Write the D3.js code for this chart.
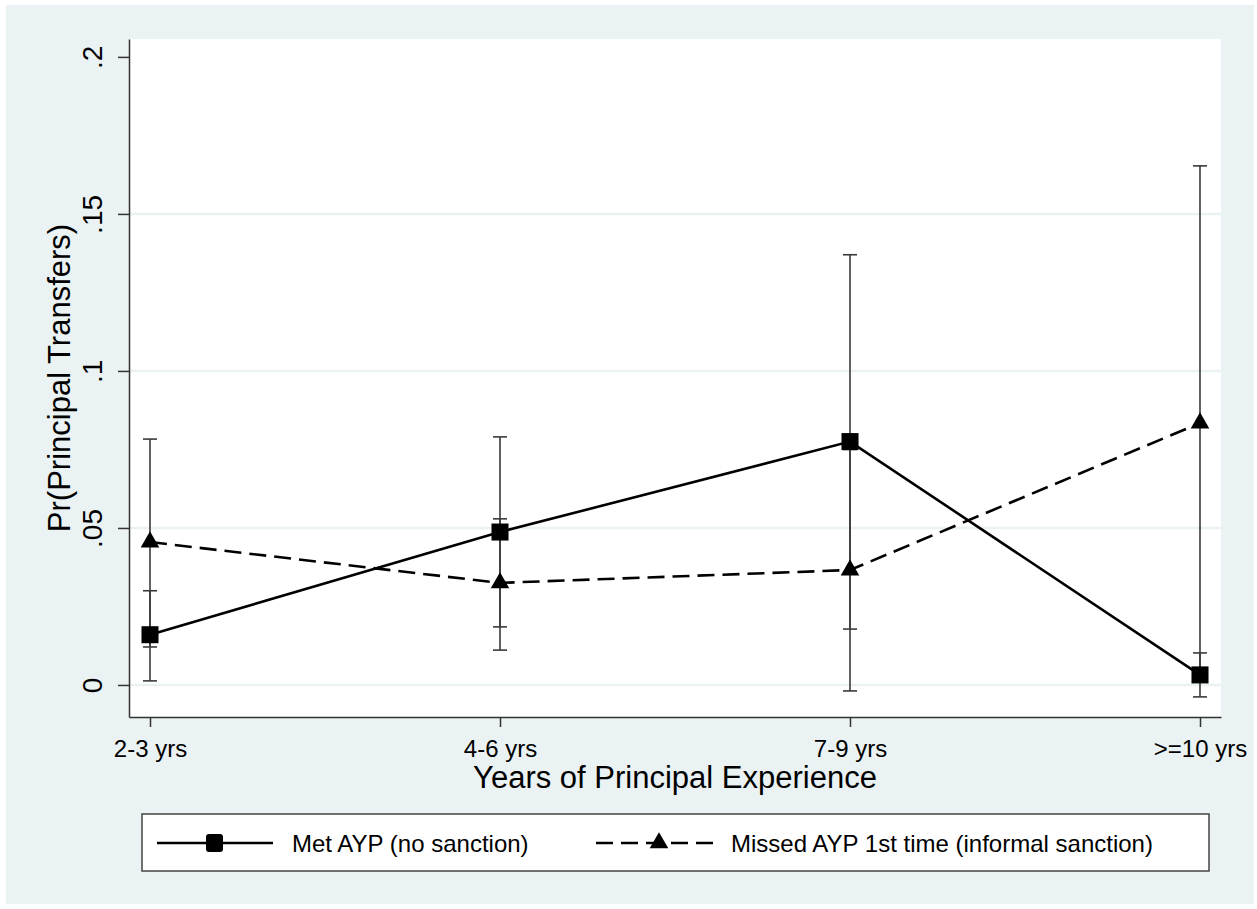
<!DOCTYPE html>
<html lang="en">
<head>
    <meta charset="UTF-8">
    <title>Pr(Principal Transfers) by Years of Principal Experience</title>
    <script src="https://d3js.org/d3.v7.min.js"></script>
    <style>
        body { margin: 0; background: #fff; }
        svg { display: block; font-family: "Liberation Sans", Arial, sans-serif; }
        .axis path, .axis line { stroke: #333; stroke-width: 1.5; }
        .grid { stroke: #eaf2f3; stroke-width: 2.5; }
        .ci { stroke: #3a3a3a; stroke-width: 1.6; fill: none; }
    </style>
</head>
<body>
<svg></svg>
<script>
    // categories and estimates
    const categories = ["2-3 yrs", "4-6 yrs", "7-9 yrs", ">=10 yrs"];
    const metEst  = [0.016, 0.0487, 0.0775, 0.0032];
    const metLo   = [0.0013, 0.0185, 0.0178, -0.0038];
    const metHi   = [0.030, 0.079, 0.137, 0.0102];
    const missEst = [0.0455, 0.0325, 0.0366, 0.0834];
    const missLo  = [0.0121, 0.0111, -0.0019, 0.0015];
    const missHi  = [0.0783, 0.0529, 0.075, 0.1653];
    const yTicks  = [0, 0.05, 0.1, 0.15, 0.2];
    const yTickLabels = ["0", ".05", ".1", ".15", ".2"];
    const seriesNames = ["Met AYP (no sanction)", "Missed AYP 1st time (informal sanction)"];

    const W = 1257, H = 909;
    const plot = {left: 129, right: 1221, top: 39, bottom: 717};

    const svg = d3.select("svg").attr("width", W).attr("height", H);

    // outer graph region (stata-ish light blue)
    svg.append("rect")
        .attr("x", 6).attr("y", 5)
        .attr("width", 1248).attr("height", 899)
        .attr("fill", "#eaf2f3");

    svg.append("rect")
        .attr("x", plot.left).attr("y", plot.top)
        .attr("width", plot.right - plot.left).attr("height", plot.bottom - plot.top)
        .attr("fill", "#fff");

    const x = d3.scalePoint()
        .domain(categories)
        .range([plot.left, plot.right])
        .padding(0.06);

    // 0 sits at 685, .2 at 57
    const y = d3.scaleLinear()
        .domain([-0.0102, 0.2057])
        .range([plot.bottom, plot.top]);

    // gridlines (no line at .2)
    svg.append("g")
        .selectAll("line")
        .data(yTicks.filter(d => d < 0.2))
        .enter().append("line")
        .attr("class", "grid")
        .attr("x1", plot.left).attr("x2", plot.right)
        .attr("y1", d => y(d)).attr("y2", d => y(d));

    // axes
    const yAxis = d3.axisLeft(y)
        .tickValues(yTicks)
        .tickSize(11)
        .tickSizeOuter(0)
        .tickFormat((d, i) => yTickLabels[i]);

    const gy = svg.append("g")
        .attr("class", "axis")
        .attr("transform", `translate(${plot.left},0)`)
        .call(yAxis);
    gy.selectAll("text")
        .attr("x", null).attr("dy", null)
        .attr("transform", "translate(-27,0) rotate(-90)")
        .attr("text-anchor", "middle")
        .style("font-size", "28px")
        .style("font-family", "Liberation Sans, Arial, sans-serif")
        .attr("fill", "#000");

    const xAxis = d3.axisBottom(x)
        .tickSize(10)
        .tickSizeOuter(0)
        .tickPadding(13);

    const gx = svg.append("g")
        .attr("class", "axis")
        .attr("transform", `translate(0,${plot.bottom})`)
        .call(xAxis);
    gx.selectAll("text")
        .style("font-size", "24px")
        .style("font-family", "Liberation Sans, Arial, sans-serif")
        .attr("fill", "#000");

    // axis titles
    svg.append("text")
        .attr("x", (plot.left + plot.right) / 2)
        .attr("y", 788)
        .attr("text-anchor", "middle")
        .style("font-size", "31px")
        .text("Years of Principal Experience");

    svg.append("text")
        .attr("transform", `translate(70,${(plot.top + plot.bottom) / 2}) rotate(-90)`)
        .attr("text-anchor", "middle")
        .style("font-size", "31px")
        .text("Pr(Principal Transfers)");

    // confidence interval caps
    function drawCI(lo, hi) {
        const g = svg.append("g").attr("class", "ci");
        categories.forEach((c, i) => {
            const cx = x(c);
            g.append("line")
                .attr("x1", cx).attr("x2", cx)
                .attr("y1", y(lo[i])).attr("y2", y(hi[i]));
            [lo[i], hi[i]].forEach(v => {
                g.append("line")
                    .attr("x1", cx - 7).attr("x2", cx + 7)
                    .attr("y1", y(v)).attr("y2", y(v));
            });
        });
    }
    drawCI(metLo, metHi);
    drawCI(missLo, missHi);

    const line = d3.line()
        .x((d, i) => x(categories[i]))
        .y(d => y(d));

    svg.append("path")
        .datum(metEst)
        .attr("d", line)
        .attr("fill", "none")
        .attr("stroke", "#000")
        .attr("stroke-width", 2.6);

    svg.append("path")
        .datum(missEst)
        .attr("d", line)
        .attr("fill", "none")
        .attr("stroke", "#000")
        .attr("stroke-width", 2.6)
        .attr("stroke-dasharray", "17,8");

    const square = d3.symbol().type(d3.symbolSquare).size(290);
    const triangle = d3.symbol().type(d3.symbolTriangle).size(150);

    svg.append("g").selectAll("path")
        .data(metEst)
        .enter().append("path")
        .attr("d", square)
        .attr("transform", (d, i) => `translate(${x(categories[i])},${y(d)})`)
        .attr("fill", "#000");

    svg.append("g").selectAll("path")
        .data(missEst)
        .enter().append("path")
        .attr("d", triangle)
        .attr("transform", (d, i) => `translate(${x(categories[i])},${y(d)})`)
        .attr("fill", "#000");

    // legend
    const legend = svg.append("g");
    legend.append("rect")
        .attr("x", 142).attr("y", 814)
        .attr("width", 1067).attr("height", 57)
        .attr("fill", "#fff")
        .attr("stroke", "#444")
        .attr("stroke-width", 1.5);

    legend.append("line")
        .attr("x1", 157).attr("x2", 273)
        .attr("y1", 843).attr("y2", 843)
        .attr("stroke", "#000").attr("stroke-width", 2.6);
    legend.append("rect")
        .attr("x", 206).attr("y", 834)
        .attr("width", 17).attr("height", 18)
        .attr("rx", 3)
        .attr("fill", "#000");
    legend.append("text")
        .attr("x", 292).attr("y", 852)
        .style("font-size", "24px")
        .text(seriesNames[0]);

    legend.append("line")
        .attr("x1", 596).attr("x2", 721)
        .attr("y1", 843).attr("y2", 843)
        .attr("stroke", "#000").attr("stroke-width", 2.6)
        .attr("stroke-dasharray", "17,8");
    legend.append("path")
        .attr("d", triangle)
        .attr("transform", "translate(659,843)")
        .attr("fill", "#000");
    legend.append("text")
        .attr("x", 731).attr("y", 852)
        .style("font-size", "24px")
        .text(seriesNames[1]);
</script>
</body>
</html>
